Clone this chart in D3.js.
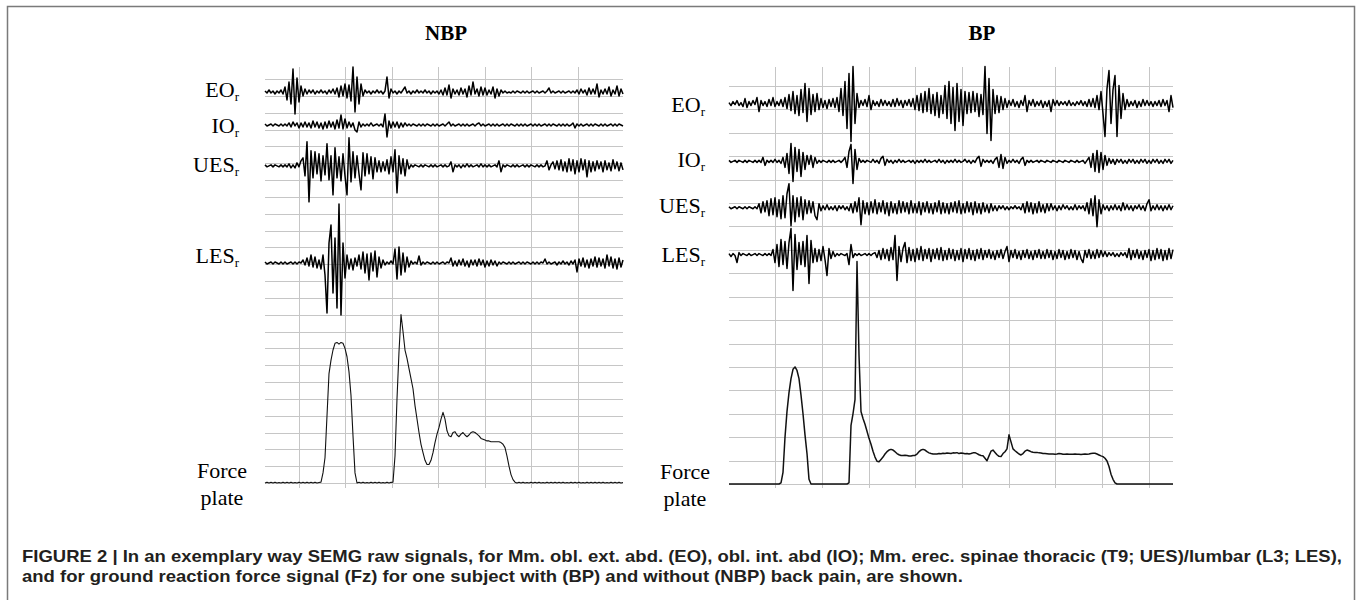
<!DOCTYPE html>
<html><head><meta charset="utf-8">
<script src="https://cdn.jsdelivr.net/npm/d3@7"></script>
<style>body{margin:0;background:#fff}</style>
</head><body>
<script>
// ---------------- DATA ----------------
const panels = ["NBP", "BP"];
const channelNames = ["EO", "IO", "UES", "LES"];
const channelSub = "r";
const forceLabel = ["Force", "plate"];

// NBP raw SEMG (a.u., one sample every time step)
const nbpEO = [
1,-1,2,-1,1,-2,1,-1,2,-2,
5,-8,10,-12,23,-22,14,-10,6,-4,
3,-2,2,-1,2,-2,1,-1,2,-1,
1,-2,2,-1,3,-2,4,-5,6,-4,
8,-6,7,-9,25,-20,15,-12,8,-4,
2,-1,1,-2,1,-1,2,-1,1,-2,
1,15,-6,3,-1,1,-2,1,-1,2,
5,-1,1,-2,1,-1,2,-1,1,-1,
2,-1,1,-2,1,-1,1,-2,2,-3,
4,-3,7,-6,3,-2,2,-3,4,-2,
3,-5,6,-3,10,-2,3,-4,5,-3,
4,-3,2,-2,5,-6,3,-4,2,-1,
1,-1,0,-1,1,-1,1,0,-1,1,
-1,1,-1,0,1,-1,1,-1,0,1,
-1,1,4,-1,1,-1,0,1,-1,1,
-1,0,1,-1,1,-1,2,-2,3,-1,
2,-3,4,-2,3,-2,8,-5,2,-2,
3,-2,5,-4,2,-2,6,-4,3,-2];
const nbpIO = [
1,-1,0,1,-1,1,0,-1,1,-1,
1,-1,2,-2,3,-1,2,-3,2,-2,
3,-2,2,-3,4,-2,3,-3,2,-4,
3,-3,4,-2,3,-4,5,-3,10,-4,
6,-3,3,-2,2,-5,-7,3,-2,1,
-1,1,-1,2,-1,0,1,-1,1,-2,
11,-12,4,-3,3,-2,3,-3,2,-2,
2,-1,1,-1,1,0,-1,1,-1,1,
-1,1,0,-1,1,-1,1,-1,0,1,
-1,1,3,-1,1,-1,0,1,-1,1,
-1,1,-1,0,1,-1,1,2,-1,1,
-1,0,1,-1,1,-1,1,-1,0,1,
-1,1,-1,1,0,-1,1,-1,1,-1,
1,-1,0,1,-1,1,-1,1,-1,0,
1,-1,1,-1,1,0,-1,1,-1,1,
-1,1,-1,0,2,-3,1,-1,1,-1,
0,1,-1,1,-1,1,0,-1,1,-1,
1,-1,0,1,-1,1,-1,1,0,-1];
const nbpUES = [
1,-1,0,1,-1,1,0,-1,1,-1,
1,-1,2,-2,1,-2,3,-1,5,8,
-10,24,-36,15,-12,14,-8,12,-15,10,
-9,22,-14,10,-29,18,-12,9,-15,12,
-10,-29,28,-16,14,-12,10,-8,-24,13,
-10,12,-8,9,-13,8,-6,5,-6,4,
-5,6,-8,9,-6,16,-27,10,-8,7,
-10,6,-3,1,-1,1,0,-1,1,-1,
1,0,-1,1,-1,1,-1,0,1,-1,
1,-1,0,4,-6,1,-1,1,-2,1,
-1,2,-1,1,-1,0,1,-1,2,-1,
1,-1,1,-1,0,1,-1,5,-6,1,
-1,1,0,-1,1,-1,1,-1,0,1,
-1,1,-1,1,0,-1,1,-1,1,-1,
0,5,-4,1,4,-3,5,-4,6,-5,
4,-6,7,-5,6,-8,5,-6,7,-4,
6,-11,5,-6,4,-5,5,-3,4,-6,
5,-4,3,-5,6,-3,4,-5,3,-4];
const nbpLES = [
1,-1,0,1,-1,1,0,-1,1,-1,
1,-1,0,1,-1,1,-1,1,0,3,
-2,5,-3,8,-4,6,-5,3,-6,8,
-12,-50,20,38,-30,25,-45,59,-52,20,
-15,8,-6,4,-7,5,-3,8,-6,11,
-10,9,-17,10,-8,12,-14,6,-5,3,
-2,1,-1,2,-1,14,-16,16,-12,10,
-9,6,-4,2,-1,1,-1,7,-2,1,
-1,1,0,-1,1,-1,1,-1,0,1,
-1,1,0,5,-3,2,-3,3,-2,4,
-3,2,-4,3,-2,3,-3,4,-2,3,
-4,2,-3,3,-2,2,-3,1,-1,1,
0,-1,1,-1,1,-1,0,1,-1,1,
-1,1,0,-1,1,-1,1,-1,1,0,
4,-1,1,-1,0,1,-2,1,-1,2,
-1,1,-2,2,-1,3,-9,4,-3,5,
-4,3,-5,4,-3,6,-4,5,-3,4,
-5,8,-3,6,-5,4,-6,5,-4,3];
// NBP ground reaction force Fz (grid divisions)
const nbpForce = [
0,0.05,0,0.04,0,0.05,0,0.03,0,0.05,
0,0.04,0,0.05,0,0.03,0,0.05,0,0.04,
0,0.05,0,0.04,0,0.05,0,0.03,0.05,
0.6,1.5,4.0,6.5,7.3,7.9,8.3,8.35,8.25,8.35,8.3,8.0,7.5,6.6,5.2,2.8,0.6,
0,0.04,0,0.05,0,0.03,0,0.05,0,0.04,0,0.05,0,0.03,0,0.05,0,0.04,
0.05,1.6,5.0,7.8,10.0,9.0,7.9,7.4,6.8,6.2,
5.6,4.6,3.8,3.0,2.3,1.8,1.35,1.1,1.1,1.35,
1.8,2.4,2.9,3.3,3.8,4.2,3.8,3.1,2.8,2.75,
3.0,3.05,2.85,2.75,2.9,3.0,2.85,2.75,2.85,3.0,
3.05,3.0,2.9,2.8,2.65,2.6,2.55,2.5,2.5,2.45,
2.45,2.45,2.45,2.45,2.4,2.3,2.1,1.6,1.0,0.5,
0.2,0.05,
0,0.04,0,0.05,0,0.03,0,0.05,0,0.04,
0,0.05,0,0.03,0,0.05,0,0.04,0,0.05,
0,0.04,0,0.05,0,0.03,0,0.05,0,0.04,
0,0.05,0,0.03,0,0.05,0,0.04,0,0.05,
0,0.04,0,0.05,0,0.03,0,0.05,0,0.04,
0,0.05,0,0.03];

// BP raw SEMG (a.u.)
const bpEO = [
1,-2,2,-1,3,-2,1,-3,5,-4,
2,-2,3,-1,6,-8,3,-2,2,-3,
4,-2,6,-3,2,-2,4,-3,6,-5,
9,-7,12,-10,8,-12,14,-9,20,-18,
15,-11,9,-8,10,-6,5,-4,3,-5,
4,-3,5,-4,6,-8,15,-12,22,-25,
30,-38,37,-20,10,-4,3,-2,4,-3,
8,-6,3,-2,2,-3,4,-2,3,-2,
2,-3,4,-3,5,-2,3,-4,3,-2,
4,-3,5,-6,8,-7,10,-9,12,-8,
15,-10,9,-12,11,-14,8,-10,18,-15,
22,-20,16,-27,20,-18,14,-22,12,-10,
11,-9,12,-8,10,-13,9,-11,37,-30,
25,-37,14,-10,8,-9,7,-6,5,-4,
3,-2,4,-3,2,-4,3,-2,8,-8,
3,-2,4,-3,2,-2,3,-4,2,-3,
3,-8,4,-2,3,-2,2,-1,2,-2,
3,-2,1,-2,2,-1,3,-2,2,-3,
4,-3,5,-4,8,-6,12,-10,-33,15,
33,-20,14,28,-33,18,-15,10,-6,4,
-3,2,-2,3,-4,2,-3,4,-2,3,
-2,2,-3,2,-2,3,-3,4,-2,3,
-8,8,-4];
const bpIO = [
1,-1,0,1,-1,1,0,-1,1,-1,
1,0,-1,1,-1,1,-1,4,-4,1,
-1,1,-1,2,-1,1,-2,4,-6,8,
-12,18,-20,14,-10,12,-15,9,-8,6,
-3,6,-6,4,-2,1,-1,1,0,-1,
1,-1,1,-1,0,1,-1,1,4,-6,
10,17,-22,12,-8,3,-1,1,-1,1,
0,-1,2,-1,1,-2,3,5,-4,2,
-1,1,-2,1,-1,2,-1,1,-1,0,
1,-1,1,-2,1,-1,1,-1,2,-1,
1,-1,0,1,-1,2,-1,1,-2,1,
-1,1,-1,2,-1,1,-1,0,2,-1,
1,-2,1,-1,3,5,-5,2,-1,1,
-1,1,-2,2,4,-6,7,-7,4,-2,
1,-1,2,-1,1,-2,2,4,-4,1,
-1,1,-1,0,1,-1,1,0,-1,1,
0,-1,1,0,-1,1,0,-1,1,0,
-1,1,0,-1,1,-1,0,1,-2,1,
4,-6,8,-10,11,-11,9,-8,6,-4,
3,-2,2,-3,2,-1,2,-2,1,-2,
2,-1,2,-2,1,-2,2,-1,2,-2,
1,-2,2,-1,2,-2,1,-2,2,-1,
2,-2,1];
const bpUES = [
1,-1,0,1,-1,1,0,-1,1,-1,
1,0,-1,1,-1,4,-5,6,-4,7,
-8,9,-7,10,-9,8,-11,12,-10,14,
24,-18,12,-14,10,-9,11,-12,8,-6,
7,-5,6,-8,-12,4,-3,2,-2,3,
-2,1,-2,2,-3,2,-1,2,-2,1,
-3,4,-5,6,-4,10,-17,7,-6,5,
-7,6,-5,8,-6,5,-4,7,-6,5,
-8,6,-5,4,-6,7,-5,6,-4,5,
-6,7,-5,4,-5,6,-7,5,-4,6,
-5,4,-6,5,-4,7,-6,5,-5,4,
-6,5,-4,6,-5,7,-6,4,-5,6,
-4,5,-7,6,-5,4,-6,5,-4,3,
-5,4,-3,2,-3,2,-1,2,-2,1,
-2,1,-1,2,-1,1,-2,4,-5,6,
-4,5,-6,4,-5,6,-4,3,-5,4,
-3,4,-2,2,-3,2,-2,3,-1,2,
-2,1,-2,3,-2,2,-1,2,-3,5,
-6,9,-8,12,-19,8,-6,3,-2,2,
-3,2,-2,3,-2,2,-3,5,-2,3,
-2,2,-3,2,-1,3,-2,2,-3,4,
8,-3,2,-2,3,-2,2,-3,2,-2,
3,-2,2];
const bpLES = [
1,-2,1,-1,-8,2,-1,1,0,-1,
1,-1,0,1,-1,1,0,-1,1,-1,
1,-1,5,-8,10,-12,15,-10,13,-14,
12,26,-36,20,-15,12,-10,13,-12,19,
-29,14,-8,6,-7,5,-6,8,-5,-21,
6,-4,3,-2,1,-1,1,0,-1,1,
-10,10,-3,1,-1,1,-1,0,1,-1,
1,-1,1,2,-3,4,-5,6,-4,5,
-6,7,-5,19,-26,8,-7,6,12,-8,
7,-6,5,-7,6,-5,8,-6,5,-4,
6,-7,5,-4,6,-5,7,-6,4,-5,
6,-4,5,-6,4,-5,6,-7,5,-4,
6,-5,4,-6,5,-4,6,-5,4,-3,
5,-4,3,-5,4,-3,5,-4,3,8,
-7,4,-3,5,-4,3,-5,4,-3,5,
-4,3,-5,4,-3,5,-4,3,-4,5,
-3,4,-5,3,-4,5,-3,4,-5,3,
-4,5,-3,4,-5,3,-4,-8,4,-3,
5,-4,3,-4,5,-3,4,-2,3,-2,
2,-1,2,-2,1,-2,2,-1,2,-3,
6,-5,4,-3,5,-4,3,-5,4,-3,
5,-6,4,-5,6,-4,5,-6,4,-5,
6,-4,5];
// BP ground reaction force Fz (grid divisions)
const bpForce = [
0,0,0,0,0,0,0,0,0,0,
0,0,0,0,0,0,0,0,0,0,
0,0,0,0,0,0,
0.05,0.5,2.0,3.1,3.9,4.5,4.9,5.0,4.85,4.5,3.8,3.0,2.1,1.3,0.2,
0,0,0,0,0,0,0,0,0,0,0,0,0,0,0,0,0,0,0,
0.05,2.5,3.0,3.6,9.5,5.5,3.1,2.8,2.55,2.25,
1.95,1.7,1.4,1.15,0.97,0.95,1.05,1.15,1.28,1.38,
1.45,1.48,1.45,1.38,1.3,1.25,1.22,1.22,1.23,1.22,
1.2,1.2,1.22,1.22,1.28,1.38,1.45,1.48,1.45,1.38,
1.33,1.3,1.28,1.28,1.28,1.3,1.29,1.31,1.3,1.32,
1.31,1.3,1.33,1.32,1.34,1.3,1.32,1.31,1.29,1.3,
1.28,1.3,1.33,1.34,1.3,1.25,1.22,1.21,1.1,0.99,
1.2,1.4,1.45,1.35,1.25,1.18,1.17,1.3,1.38,1.5,
2.1,1.8,1.5,1.42,1.35,1.28,1.24,1.3,1.4,1.45,
1.42,1.38,1.36,1.35,1.35,1.33,1.32,1.3,1.3,1.29,
1.28,1.28,1.28,1.27,1.28,1.3,1.29,1.27,1.27,1.28,
1.27,1.27,1.27,1.28,1.27,1.27,1.26,1.27,1.28,1.27,
1.28,1.3,1.31,1.31,1.28,1.24,1.2,1.17,1.1,0.98,
0.75,0.42,0.2,0.05,
0,0,0,0,0,0,0,0,0,0,
0,0,0,0,0,0,0,0,0,0,
0,0,0,0,0,0,0,0,0];

// channel baselines (grid divisions above the force baseline)
const nbpOffsets = [23.23, 21.27, 18.84, 13.07];
const bpOffsets = [16.25, 13.78, 11.80, 9.80];
// EMG units per grid division
const nbpUnitsPerDiv = 16.83;
const bpUnitsPerDiv = 23.41;
// number of horizontal grid divisions
const nbpDivisions = 24;
const bpDivisions = 17;
// time positions (samples) of the vertical grid lines
const nbpGridT = [16.85, 40.1, 63.4, 86.6, 109.9, 133.2, 156.4];
const bpGridT = [23.15, 46.5, 69.8, 93.1, 116.5, 139.8, 163.1, 186.5, 209.8];

const captionLines = [
  "FIGURE 2 | In an exemplary way SEMG raw signals, for Mm. obl. ext. abd. (EO), obl. int. abd (IO); Mm. erec. spinae thoracic (T9; UES)/lumbar (L3; LES),",
  "and for ground reaction force signal (Fz) for one subject with (BP) and without (NBP) back pain, are shown."
];

// ---------------- LAYOUT ----------------
const W = 1360, H = 600;
const serif = "'Liberation Serif','Times New Roman',Times,serif";
const layout = {
  NBP: {x0: 265, x1: 623, yTop: 79, yBot: 483, gTop: 67, gBot: 488, titleX: 446,
        labelX: 239, labelY: [96.5, 133, 171.5, 263], forceX: 222, forceY: [478, 505], baseNoise: true},
  BP:  {x0: 729, x1: 1173, yTop: 86, yBot: 484, gTop: 67, gBot: 488, titleX: 982,
        labelX: 705, labelY: [112, 166.7, 213, 261.5], forceX: 685, forceY: [479, 506], baseNoise: false}
};
const data = {
  NBP: {emg: [nbpEO, nbpIO, nbpUES, nbpLES], force: nbpForce, offsets: nbpOffsets, upd: nbpUnitsPerDiv, div: nbpDivisions, gridT: nbpGridT},
  BP:  {emg: [bpEO, bpIO, bpUES, bpLES], force: bpForce, offsets: bpOffsets, upd: bpUnitsPerDiv, div: bpDivisions, gridT: bpGridT}
};

const svg = d3.select("body").append("svg").attr("width", W).attr("height", H);
svg.append("rect").attr("width", W).attr("height", H).attr("fill", "#fff");
svg.append("rect").attr("x", 7.5).attr("y", 6.5).attr("width", 1347).attr("height", 700)
  .attr("fill", "none").attr("stroke", "#7a7a7a").attr("stroke-width", 1.5);

panels.forEach(p => {
  const L = layout[p], D = data[p];
  const n = D.emg[0].length;
  const x = d3.scaleLinear().domain([0, n - 1]).range([L.x0, L.x1]);
  const y = d3.scaleLinear().domain([0, D.div]).range([L.yBot, L.yTop]);
  const g = svg.append("g");

  // grid
  g.append("g").selectAll("line").data(d3.range(D.div + 1)).join("line")
    .attr("x1", L.x0).attr("x2", L.x1)
    .attr("y1", d => Math.round(y(d)) + 0.5).attr("y2", d => Math.round(y(d)) + 0.5)
    .attr("stroke", "#c6c6c6").attr("stroke-width", 1);
  g.append("g").selectAll("line").data(D.gridT).join("line")
    .attr("x1", d => Math.round(x(d)) + 0.5).attr("x2", d => Math.round(x(d)) + 0.5)
    .attr("y1", L.gTop).attr("y2", L.gBot)
    .attr("stroke", "#c6c6c6").attr("stroke-width", 1);

  // EMG traces
  D.emg.forEach((arr, c) => {
    const line = d3.line().x((d, i) => x(i)).y(d => y(D.offsets[c] + d / D.upd));
    g.append("path").datum(arr).attr("d", line)
      .attr("fill", "none").attr("stroke", "#000").attr("stroke-width", 1.5)
      .attr("stroke-linejoin", "round");
  });

  // Force trace
  const fx = d3.scaleLinear().domain([0, D.force.length - 1]).range([L.x0, L.x1]);
  g.append("path").datum(D.force)
    .attr("d", d3.line().x((d, i) => fx(i)).y(d => y(d)))
    .attr("fill", "none").attr("stroke", "#111").attr("stroke-width", L.baseNoise ? 1.1 : 1.5)
    .attr("stroke-linejoin", "round");

  // title
  g.append("text").attr("x", L.titleX).attr("y", 39.5).attr("text-anchor", "middle")
    .style("font-family", serif).style("font-weight", "bold").style("font-size", "21px")
    .attr("fill", "#000").text(p);

  // channel labels
  channelNames.forEach((nm, c) => {
    const t = g.append("text").attr("x", L.labelX).attr("y", L.labelY[c]).attr("text-anchor", "end")
      .style("font-family", serif).style("font-size", "22px").attr("fill", "#000");
    t.append("tspan").text(nm);
    t.append("tspan").attr("dy", 4).style("font-size", "13px").text(channelSub);
  });
  forceLabel.forEach((s, k) => {
    g.append("text").attr("x", L.forceX).attr("y", L.forceY[k]).attr("text-anchor", "middle")
      .style("font-family", serif).style("font-size", "22px").attr("fill", "#000").text(s);
  });
});

// caption
const cap = svg.append("g").style("font-family", "'Liberation Sans',Arial,Helvetica,sans-serif")
  .style("font-weight", "bold").style("font-size", "16.5px").attr("fill", "#231f20");
const t1 = cap.append("text").attr("x", 22).attr("y", 561.5).text(captionLines[0]);
const t2 = cap.append("text").attr("x", 22).attr("y", 581.5).text(captionLines[1]);
const n1 = t1.node().getComputedTextLength();
const n2 = t2.node().getComputedTextLength();
const target1 = 1320;
const f = target1 / n1;
t1.attr("textLength", target1).attr("lengthAdjust", "spacingAndGlyphs");
t2.attr("textLength", n2 * f).attr("lengthAdjust", "spacingAndGlyphs");
</script>
</body></html>
